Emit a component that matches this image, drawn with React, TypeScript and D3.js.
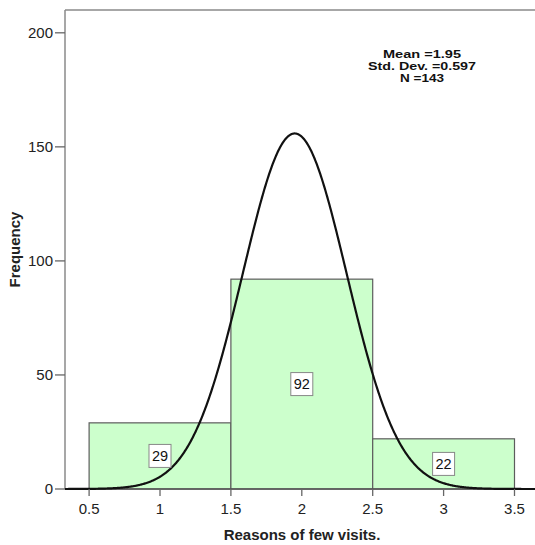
import React from "react";
import * as d3 from "d3";

const binStarts = [0.5, 1.5, 2.5];
const binEnds = [1.5, 2.5, 3.5];
const counts = [29, 92, 22];
const xTicks = [0.5, 1, 1.5, 2, 2.5, 3, 3.5];
const yTicks = [0, 50, 100, 150, 200];
const statsLines = ["Mean =1.95", "Std. Dev. =0.597", "N =143"];
const statsWidths = [78, 108, 44];
const CURVE_MEAN = 1.95;
const CURVE_SD = 0.366;
const CURVE_N = 143;

const W = 535;
const H = 545;
const FONT = "Arial, 'Liberation Sans', Helvetica, sans-serif";

export default function App() {
  const x = d3.scaleLinear().domain([0.33, 3.67]).range([65, 538.6]);
  const y = d3.scaleLinear().domain([0, 210]).range([489, 10]);

  const pdf = (v: number) =>
    (CURVE_N / (CURVE_SD * Math.sqrt(2 * Math.PI))) *
    Math.exp(-((v - CURVE_MEAN) ** 2) / (2 * CURVE_SD * CURVE_SD));
  const curvePts = d3.range(0.33, 3.67, 0.005).map((v) => [v, pdf(v)] as [number, number]);
  const line = d3
    .line<[number, number]>()
    .x((d) => x(d[0]))
    .y((d) => y(d[1]))
    .curve(d3.curveLinear);

  const [x0] = x.range();
  const [yb, yt] = y.range();

  return (
    <svg
      width={W}
      height={H}
      style={{ position: "absolute", left: 0, top: 0, background: "#fff" }}
      fontFamily={FONT}
    >
      {/* frame */}
      <line x1={x0} x2={W} y1={yt} y2={yt} stroke="#8a8a8a" strokeWidth={1.5} />
      <line x1={x0} x2={x0} y1={yt} y2={yb} stroke="#8a8a8a" strokeWidth={1.5} />

      {/* bars */}
      {counts.map((c, i) => (
        <rect
          key={i}
          x={x(binStarts[i])}
          y={y(c)}
          width={x(binEnds[i]) - x(binStarts[i])}
          height={y(0) - y(c)}
          fill="#ccffcc"
          stroke="#5c5c5c"
          strokeWidth={1.2}
        />
      ))}

      {/* baseline */}
      <line x1={x0} x2={W} y1={yb} y2={yb} stroke="#555" strokeWidth={1.5} />

      {/* curve */}
      <path d={line(curvePts) || ""} fill="none" stroke="#111" strokeWidth={2.2} />

      {/* bar labels */}
      {counts.map((c, i) => {
        const cx = x((binStarts[i] + binEnds[i]) / 2);
        const cy = y(c / 2);
        return (
          <g key={"l" + i}>
            <rect x={cx - 11} y={cy - 11.5} width={22} height={23} fill="#fff" stroke="#888" strokeWidth={1} />
            <text x={cx} y={cy + 5} textAnchor="middle" fontSize={14.5} fill="#111">
              {c}
            </text>
          </g>
        );
      })}

      {/* y ticks */}
      {yTicks.map((t) => (
        <g key={"y" + t}>
          <line x1={x0 - 10} x2={x0} y1={y(t)} y2={y(t)} stroke="#666" strokeWidth={1.3} />
          <text x={x0 - 12} y={y(t) + 5} textAnchor="end" fontSize={15} fill="#222">
            {t}
          </text>
        </g>
      ))}

      {/* x ticks */}
      {xTicks.map((t) => (
        <g key={"x" + t}>
          <line x1={x(t)} x2={x(t)} y1={yb} y2={yb + 7} stroke="#666" strokeWidth={1.3} />
          <text x={x(t)} y={yb + 25} textAnchor="middle" fontSize={15} fill="#222">
            {t}
          </text>
        </g>
      ))}

      {/* axis titles */}
      <text x={302} y={540} textAnchor="middle" fontSize={15} fontWeight="bold" fill="#222">
        Reasons of few visits.
      </text>
      <text
        transform={`translate(20, ${(yt + yb) / 2}) rotate(-90)`}
        textAnchor="middle"
        fontSize={15}
        fontWeight="bold"
        fill="#222"
      >
        Frequency
      </text>

      {/* stats */}
      {statsLines.map((s, i) => (
        <text
          key={s}
          x={422 - statsWidths[i] / 2}
          y={58 + i * 12}
          fontSize={10.5}
          fontWeight="bold"
          fill="#111"
          textLength={statsWidths[i]}
          lengthAdjust="spacingAndGlyphs"
        >
          {s}
        </text>
      ))}
    </svg>
  );
}
